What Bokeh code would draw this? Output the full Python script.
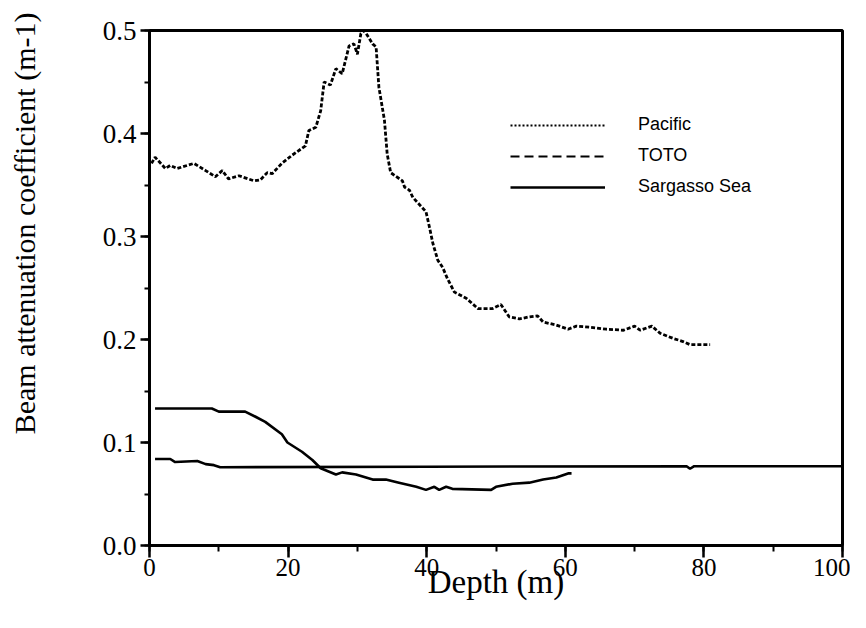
from bokeh.plotting import figure
from bokeh.models import (Range1d, SingleIntervalTicker, NumeralTickFormatter,
                          Legend, LegendItem, Title)
from bokeh.embed import file_html
from bokeh.resources import INLINE

# ---- data ----
pacific_depth = [0.3, 0.8, 2.3, 3.0, 4.0, 6.4, 8.1, 9.5, 10.5, 11.4, 12.9, 15.1, 16.0,
                 17.0, 17.7, 19.1, 20.6, 22.5, 23.0, 24.0, 24.7, 25.2, 26.1, 26.9, 27.8,
                 28.8, 29.5, 30.0, 30.5, 31.0, 32.2, 32.7, 33.1, 33.9, 34.3, 34.8, 36.5,
                 36.8, 37.5, 38.0, 39.9, 40.4, 40.9, 41.6, 42.3, 43.0, 44.0, 45.7, 47.4,
                 49.5, 50.7, 51.9, 53.4, 54.8, 56.0, 56.8, 58.7, 60.4, 61.6, 63.5, 65.9,
                 68.4, 70.0, 70.8, 72.5, 73.7, 75.6, 77.0, 78.0, 80.9]
pacific_c = [0.371, 0.377, 0.366, 0.369, 0.366, 0.371, 0.364, 0.358, 0.364, 0.356, 0.359,
             0.354, 0.355, 0.362, 0.361, 0.371, 0.379, 0.388, 0.403, 0.406, 0.422, 0.450,
             0.447, 0.463, 0.458, 0.485, 0.487, 0.477, 0.497, 0.500, 0.487, 0.484, 0.445,
             0.413, 0.380, 0.362, 0.354, 0.348, 0.345, 0.338, 0.324, 0.309, 0.293, 0.277,
             0.270, 0.259, 0.246, 0.240, 0.230, 0.230, 0.234, 0.222, 0.220, 0.222, 0.223,
             0.217, 0.214, 0.210, 0.213, 0.212, 0.210, 0.209, 0.213, 0.209, 0.213, 0.206,
             0.201, 0.198, 0.195, 0.195]

toto_depth = [0.8, 3.0, 3.7, 6.9, 8.1, 9.3, 10.2, 40.0, 77.5, 78.0, 78.6, 100.0]
toto_c = [0.084, 0.084, 0.081, 0.082, 0.079, 0.078, 0.076, 0.0765, 0.077, 0.0745, 0.077, 0.077]

sargasso_depth = [0.8, 9.0, 10.0, 13.8, 15.3, 16.7, 19.1, 19.9, 22.0, 23.5, 24.7, 26.9,
                  27.8, 29.8, 32.2, 34.1, 36.0, 38.5, 39.9, 41.1, 41.8, 42.8, 43.7, 49.3,
                  50.0, 52.4, 54.8, 56.8, 58.7, 60.4, 60.9]
sargasso_c = [0.133, 0.133, 0.130, 0.130, 0.125, 0.120, 0.108, 0.100, 0.091, 0.083, 0.075,
              0.069, 0.071, 0.069, 0.064, 0.064, 0.061, 0.057, 0.054, 0.057, 0.054, 0.057,
              0.055, 0.054, 0.057, 0.060, 0.061, 0.064, 0.066, 0.070, 0.070]

legend_labels = ["Pacific", "TOTO", "Sargasso Sea"]
x_title = "Depth (m)"
y_title = "Beam attenuation coefficient (m-1)"

SERIF = "Liberation Serif"
SANS = "Liberation Sans"
NAN = float("nan")

p = figure(width=850, height=612, output_backend="svg", toolbar_location=None,
           x_range=Range1d(0, 100), y_range=Range1d(0, 0.5),
           min_border_left=149, min_border_right=8, min_border_top=30,
           min_border_bottom=67)
p.grid.visible = False
p.outline_line_color = "black"
p.outline_line_width = 3
p.background_fill_color = "white"
p.border_fill_color = "white"

# data lines
p.line(pacific_depth, pacific_c, line_color="black", line_width=2.8, line_dash="4 2")
p.line(toto_depth, toto_c, line_color="black", line_width=2.6)
p.line(sargasso_depth, sargasso_c, line_color="black", line_width=2.6)

# legend sample renderers (styles only; nothing drawn in the frame)
r_pac = p.line([NAN], [NAN], line_color="black", line_width=2, line_dash="2 2")
r_toto = p.line([NAN], [NAN], line_color="black", line_width=2, line_dash="9 5")
r_sar = p.line([NAN], [NAN], line_color="black", line_width=2.5)

legend = Legend(items=[LegendItem(label=legend_labels[0], renderers=[r_pac]),
                       LegendItem(label=legend_labels[1], renderers=[r_toto]),
                       LegendItem(label=legend_labels[2], renderers=[r_sar])],
                location=(361, 348), border_line_alpha=0, background_fill_alpha=0,
                padding=0, margin=0, spacing=10, glyph_width=95, glyph_height=20,
                label_height=20, label_standoff=33,
                label_text_font=SANS, label_text_font_size="18px",
                label_text_color="black")
p.add_layout(legend, "center")

# x axis
xa = p.xaxis[0]
xa.ticker = SingleIntervalTicker(interval=20, num_minor_ticks=2)
xa.axis_line_width = 3
xa.major_tick_line_width = 2.5
xa.minor_tick_line_width = 2
xa.major_tick_out = 12
xa.major_tick_in = 0
xa.minor_tick_out = 6
xa.minor_tick_in = 0
xa.major_label_text_font = SERIF
xa.major_label_text_font_size = "25px"
xa.major_label_text_color = "black"
xa.major_label_standoff = 1
xa.axis_label = x_title
xa.axis_label_text_font = SERIF
xa.axis_label_text_font_size = "33px"
xa.axis_label_text_font_style = "normal"
xa.axis_label_text_color = "black"
xa.axis_label_standoff = -15

# y axis
ya = p.yaxis[0]
ya.ticker = SingleIntervalTicker(interval=0.1, num_minor_ticks=2)
ya.formatter = NumeralTickFormatter(format="0.0")
ya.axis_line_width = 3
ya.major_tick_line_width = 2.5
ya.minor_tick_line_width = 2
ya.major_tick_out = 9
ya.major_tick_in = 0
ya.minor_tick_out = 5
ya.minor_tick_in = 0
ya.major_label_text_font = SERIF
ya.major_label_text_font_size = "27px"
ya.major_label_text_color = "black"
ya.major_label_standoff = 4

# white (invisible) side panel that only adds room between tick labels and y title
spacer = Title(text=".", standoff=49, text_font_size="10px", text_color="white")
p.add_layout(spacer, "left")

# y-axis title as a side title (so it can sit higher than the axis centre)
ytitle = Title(text=y_title, align="right", offset=-18, standoff=0,
               text_font=SERIF, text_font_size="30px", text_font_style="normal",
               text_color="black")
p.add_layout(ytitle, "left")

open("out.html", "w").write(file_html(p, INLINE))
